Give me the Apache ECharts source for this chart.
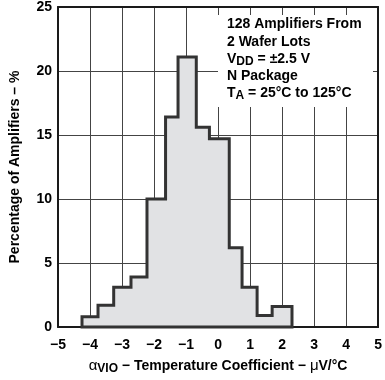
<!DOCTYPE html>
<html>
<head>
<meta charset="utf-8">
<script src="https://cdn.jsdelivr.net/npm/echarts@6/dist/echarts.min.js"></script>
<style>html,body{margin:0;padding:0;background:#fff;}#c{width:385px;height:380px;}</style>
</head>
<body>
<div id="c"></div>
<script>
// Histogram bin edges (µV/°C) and percentage of amplifiers in each bin
const binEdges = [-4.25, -3.75, -3.26, -2.72, -2.22, -1.64, -1.25, -0.68, -0.27, 0.35, 0.75, 1.22, 1.69, 2.31];
const percentages = [0.8, 1.7, 3.1, 3.9, 10.0, 16.4, 21.1, 15.6, 14.7, 6.2, 3.1, 0.9, 1.6];
const xTickLabels = ['−5', '−4', '−3', '−2', '−1', '0', '1', '2', '3', '4', '5'];
const yTickLabels = ['0', '5', '10', '15', '20', '25'];
const annotationLines = [
  '{b|128 Amplifiers From}',
  '{b|2 Wafer Lots}',
  '{b|V}{s|DD}{b| = ±2.5 V}',
  '{b|N Package}',
  '{b|T}{s|A}{b| = 25°C to 125°C}'
];

// Build the step outline from the bins
const outline = [[binEdges[0], 0]];
percentages.forEach((h, i) => {
  outline.push([binEdges[i], h]);
  outline.push([binEdges[i + 1], h]);
});
outline.push([binEdges[binEdges.length - 1], 0]);

const FONT = 'Liberation Sans, Arial, sans-serif';
const frameLine = {show: true, onZero: false, lineStyle: {color: '#1a1a1a', width: 2}};
const gridLine = {show: true, lineStyle: {color: '#444', width: 1, type: 'solid'}};
const chart = echarts.init(document.getElementById('c'), null, {renderer: 'canvas'});
chart.setOption({
  animation: false,
  backgroundColor: '#fff',
  grid: {left: 53, right: 4, top: 5, bottom: 48, show: false},
  xAxis: [{
    type: 'value', min: -5, max: 5, interval: 1, position: 'bottom',
    axisLine: frameLine,
    axisTick: {show: false},
    splitLine: gridLine,
    axisLabel: {
      margin: 11, color: '#000', fontFamily: FONT, fontWeight: 'bold', fontSize: 14,
      formatter: v => xTickLabels[Math.round(v + 5)]
    },
    name: '{g|α}{s|VIO}{n| − Temperature Coefficient − }{g|μ}{n|V/°C}',
    nameLocation: 'middle', nameGap: 30,
    nameTextStyle: {
      rich: {
        g: {fontFamily: FONT, fontSize: 15, color: '#000', fontWeight: 'normal'},
        s: {fontFamily: FONT, fontSize: 12, fontWeight: 'bold', color: '#000', padding: [6, 0, 0, 0]},
        n: {fontFamily: FONT, fontSize: 14, fontWeight: 'bold', color: '#000'}
      }
    }
  }, {
    type: 'value', min: -5, max: 5, interval: 1, position: 'top',
    axisLine: frameLine, axisTick: {show: false}, axisLabel: {show: false}, splitLine: {show: false}
  }],
  yAxis: [{
    type: 'value', min: 0, max: 25, interval: 5, position: 'left',
    axisLine: frameLine,
    axisTick: {show: false},
    splitLine: gridLine,
    axisLabel: {
      margin: 6, color: '#000', fontFamily: FONT, fontWeight: 'bold', fontSize: 14,
      formatter: v => yTickLabels[Math.round(v / 5)]
    },
    name: 'Percentage of Amplifiers – %',
    nameLocation: 'middle', nameGap: 36, nameRotate: 90,
    nameTextStyle: {fontFamily: FONT, fontWeight: 'bold', fontSize: 14, color: '#000'}
  }, {
    type: 'value', min: 0, max: 25, interval: 5, position: 'right',
    axisLine: frameLine, axisTick: {show: false}, axisLabel: {show: false}, splitLine: {show: false}
  }],
  series: [{
    // histogram: one filled step polygon built from the bins through the axis scales
    type: 'custom',
    xAxisIndex: 0, yAxisIndex: 0,
    data: outline,
    encode: {x: 0, y: 1},
    z: 2,
    silent: true,
    renderItem: function (params, api) {
      if (params.dataIndex !== 0) return null;
      const pts = outline.map(p => api.coord(p));
      return {
        type: 'polygon',
        shape: {points: pts},
        style: {fill: '#e1e2e4', stroke: '#333', lineWidth: 3, lineJoin: 'miter'}
      };
    }
  }],
  graphic: [
    {type: 'rect', shape: {x: 218, y: 15, width: 155, height: 92}, style: {fill: '#fff'}, z: 100},
    {
      type: 'text', x: 227, y: 16, z: 101,
      style: {
        text: annotationLines.join('\n'),
        rich: {
          b: {fontFamily: FONT, fontSize: 14, fontWeight: 'bold', fill: '#000', lineHeight: 17.2},
          s: {fontFamily: FONT, fontSize: 12, fontWeight: 'bold', fill: '#000', lineHeight: 12, verticalAlign: 'bottom'}
        }
      }
    }
  ]
});
</script>
</body>
</html>
